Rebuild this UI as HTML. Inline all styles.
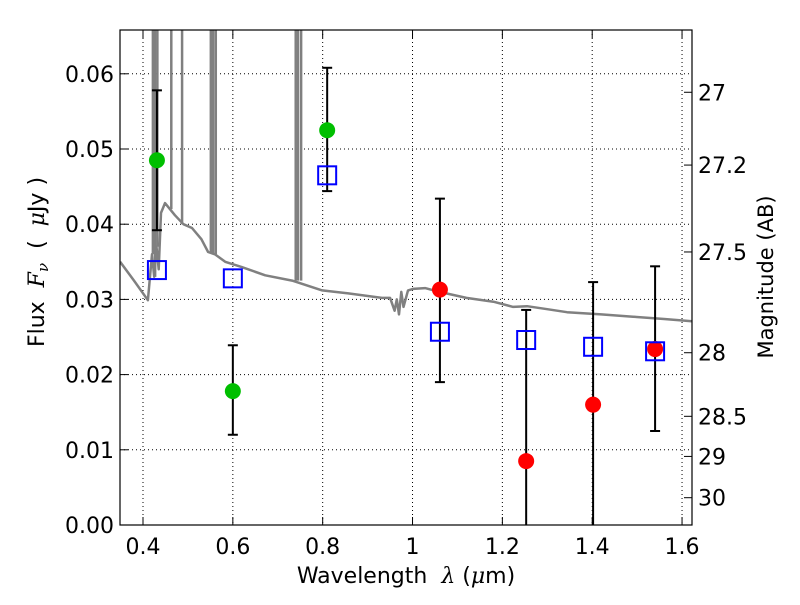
<!DOCTYPE html>
<html><head><meta charset="utf-8"><style>
body{margin:0;background:#fff;}
svg text{font-family:"DejaVu Sans","Liberation Sans",sans-serif;fill:#000;}
</style></head><body>
<svg id="chart" width="800" height="600" xmlns="http://www.w3.org/2000/svg">
<rect width="800" height="600" fill="#fff"/>
<defs><clipPath id="pc"><rect x="120" y="30" width="572" height="495"/></clipPath></defs>
<g id="grid"></g>
<g id="spec" clip-path="url(#pc)"></g>
<g id="pts" clip-path="url(#pc)"></g>
<rect x="120" y="30" width="572" height="495" fill="none" stroke="#000" stroke-width="1.2"/>
<g id="axes"></g>
<text x="406" y="583" font-size="22" text-anchor="middle" xml:space="preserve">Wavelength  <tspan font-style="italic" font-family="DejaVu Serif, serif">λ</tspan> (<tspan font-style="italic" font-family="DejaVu Serif, serif">μ</tspan>m)</text>
<text transform="translate(44,262) rotate(-90)" font-size="22" text-anchor="middle" xml:space="preserve">Flux  <tspan font-style="italic" font-family="DejaVu Serif, serif">F<tspan font-size="15" dy="4">ν</tspan></tspan><tspan dy="-4">  (  <tspan font-style="italic" font-family="DejaVu Serif, serif">μ</tspan>Jy )</tspan></text>
<text transform="translate(773,277) rotate(-90)" font-size="21" text-anchor="middle">Magnitude (AB)</text>
</svg>
<script>
const specW=[0.349,0.38,0.411,0.42,0.425,0.43,0.435,0.44,0.449,0.46,0.471,0.49,0.509,0.53,0.545,0.56,0.583,0.62,0.672,0.732,0.799,0.857,0.932,0.95,0.96,0.965,0.97,0.975,0.98,0.99,1.001,1.028,1.06,1.12,1.18,1.224,1.255,1.3,1.344,1.42,1.491,1.56,1.622];
const specF=[0.035,0.0325,0.0299,0.036,0.033,0.037,0.034,0.0415,0.0428,0.042,0.0412,0.040,0.0395,0.038,0.0363,0.036,0.035,0.0343,0.0332,0.0325,0.0312,0.0308,0.0302,0.0302,0.0285,0.030,0.028,0.031,0.029,0.0312,0.0314,0.0315,0.031,0.0302,0.0297,0.029,0.0291,0.0287,0.0283,0.028,0.0277,0.0274,0.0271];
const spikeW=[0.422,0.427,0.432,0.463,0.487,0.551,0.556,0.562,0.740,0.745,0.752];
const spikeF=[0.07,0.07,0.07,0.07,0.07,0.07,0.07,0.07,0.07,0.07,0.07];
const photW=[0.431,0.600,0.810,1.061,1.253,1.402,1.540];
const photF=[0.0485,0.0178,0.0525,0.0313,0.0085,0.0160,0.0234];
const errHi=[0.0578,0.0239,0.0608,0.0434,0.0286,0.0323,0.0344];
const errLo=[0.0392,0.0120,0.0444,0.0190,-0.01,-0.01,0.0125];
const photColor=['green','green','green','red','red','red','red'];
const modelF=[0.0339,0.0328,0.0465,0.0257,0.0246,0.0237,0.0231];
const xTicks=[0.4,0.6,0.8,1.0,1.2,1.4,1.6];
const xLabels=['0.4','0.6','0.8','1','1.2','1.4','1.6'];
const yTicks=[0,0.01,0.02,0.03,0.04,0.05,0.06];
const yLabels=['0.00','0.01','0.02','0.03','0.04','0.05','0.06'];
const magTicks=[27,27.2,27.5,28,28.5,29,30];
const magLabels=['27','27.2','27.5','28','28.5','29','30'];

const X=w=>143+(w-0.4)*449.2;
const Y=f=>525-f*7520;
const NS='http://www.w3.org/2000/svg';
function mk(p,t,a){const e=document.createElementNS(NS,t);for(const k in a)e.setAttribute(k,a[k]);p.appendChild(e);return e;}
const grid=document.getElementById('grid'),axes=document.getElementById('axes'),spec=document.getElementById('spec'),pts=document.getElementById('pts');
xTicks.forEach((w,i)=>{const x=X(w);
 const g=mk(grid,'line',{x1:x,x2:x,y1:30,y2:525,stroke:'#000','stroke-width':1,'stroke-dasharray':'1,3'});
 
 
 mk(axes,'line',{x1:x,x2:x,y1:525,y2:517,stroke:'#000'});
 mk(axes,'line',{x1:x,x2:x,y1:30,y2:38,stroke:'#000'});
 const t=mk(axes,'text',{x:x,y:554,'font-size':22,'text-anchor':'middle'});t.textContent=xLabels[i];
 
 
});
yTicks.forEach((f,i)=>{const y=Y(f);
 if(i>0){const g=mk(grid,'line',{x1:120,x2:692,y1:y,y2:y,stroke:'#000','stroke-width':1,'stroke-dasharray':'1,3'});
 
 }
 mk(axes,'line',{x1:120,x2:128,y1:y,y2:y,stroke:'#000'});
 const t=mk(axes,'text',{x:114,y:y+8,'font-size':22,'text-anchor':'end'});t.textContent=yLabels[i];
 
 
});
magTicks.forEach((m,i)=>{const y=Y(Math.pow(10,(23.9-m)/2.5));
 mk(axes,'line',{x1:692,x2:684,y1:y,y2:y,stroke:'#000'});
 const t=mk(axes,'text',{x:698,y:y+8,'font-size':22});t.textContent=magLabels[i];
 
 
});
let d='';specW.forEach((w,i)=>{d+=(i?'L':'M')+X(w).toFixed(1)+','+Y(specF[i]).toFixed(1);});
const sp=mk(spec,'path',{d:d,fill:'none',stroke:'#808080','stroke-width':2.5,'stroke-linejoin':'round'});


spikeW.forEach((w,i)=>{
 const base=specF.reduce((b,f,j)=>Math.abs(specW[j]-w)<Math.abs(specW[b]-w)?j:b,0);
 const l=mk(spec,'line',{x1:X(w),x2:X(w),y1:Y(specF[base]),y2:Y(spikeF[i]),stroke:'#808080','stroke-width':2.5});
 
 
});
photW.forEach((w,i)=>{const x=X(w);
 const e=mk(pts,'line',{x1:x,x2:x,y1:Y(errHi[i]),y2:Y(errLo[i]),stroke:'#000','stroke-width':2});
 
 
 [errHi[i],errLo[i]].forEach(v=>{if(v>0)mk(pts,'line',{x1:x-5,x2:x+5,y1:Y(v),y2:Y(v),stroke:'#000','stroke-width':2});});
 const c=mk(pts,'circle',{cx:x,cy:Y(photF[i]),r:8,fill:photColor[i]==='green'?'#00bf00':'#ff0000'});
 
 
 const s=mk(pts,'rect',{x:x-9,y:Y(modelF[i])-9,width:18,height:18,fill:'none',stroke:'#0000ff','stroke-width':2});
 
 
});
</script>
</body></html>
